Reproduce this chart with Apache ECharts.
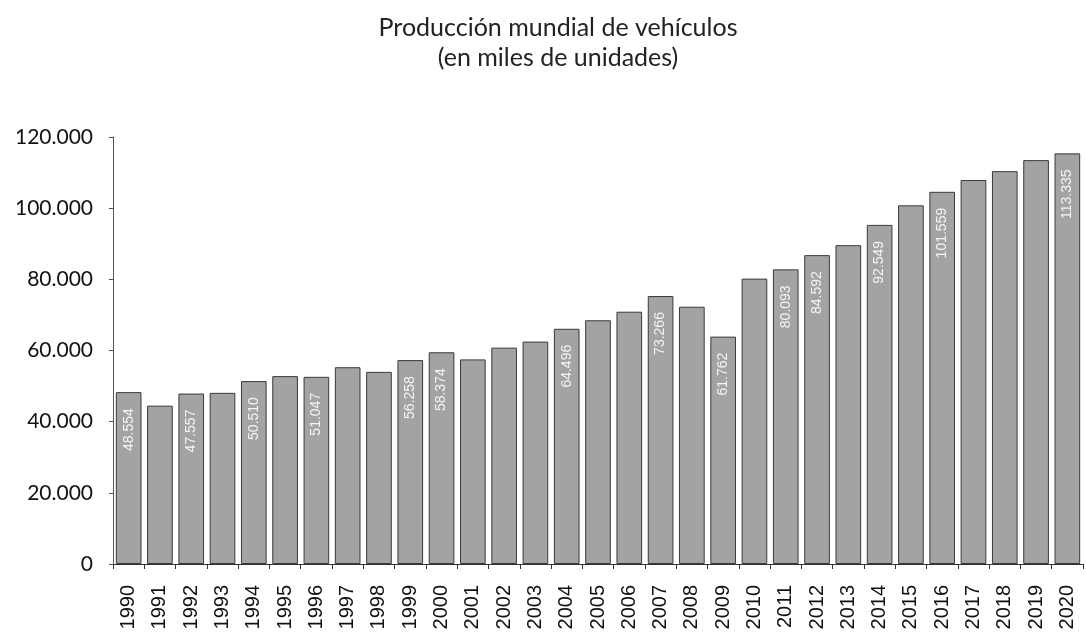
<!DOCTYPE html>
<html>
<head>
<meta charset="utf-8">
<script src="https://cdn.jsdelivr.net/npm/echarts@6/dist/echarts.min.js"></script>
<style>html,body{margin:0;padding:0;background:#fff}#c{width:1086px;height:637px}</style>
</head>
<body>
<div id="c"></div>
<script>
const titleText = 'Producción mundial de vehículos\n(en miles de unidades)';
const years = ['1990','1991','1992','1993','1994','1995','1996','1997','1998','1999','2000','2001','2002','2003','2004','2005','2006','2007','2008','2009','2010','2011','2012','2013','2014','2015','2016','2017','2018','2019','2020'];
const production = [48300,44500,47900,48100,51400,52800,52600,55300,54000,57300,59500,57500,60800,62500,66100,68500,70900,75300,72300,63900,80200,82800,86800,89600,95300,100800,104600,107900,110400,113500,115400];
const barLabels = ['48.554','','47.557','','50.510','','51.047','','','56.258','58.374','','','','64.496','','','73.266','','61.762','','80.093','84.592','','92.549','','101.559','','','','113.335'];

const fmt = v => String(v).replace(/\B(?=(\d{3})+(?!\d))/g, '.');

const chart = echarts.init(document.getElementById('c'));
chart.setOption({
  backgroundColor: '#ffffff',
  animation: false,
  title: {
    text: titleText,
    left: 553, top: 8, textAlign: 'center',
    textStyle: { fontFamily: 'Lato', fontSize: 25, fontWeight: 'normal', color: '#222', lineHeight: 30 }
  },
  grid: { left: 113, right: 3, top: 137, bottom: 73, containLabel: false },
  xAxis: {
    type: 'category',
    data: years,
    axisLine: { lineStyle: { color: '#333', width: 1 } },
    axisTick: { show: true, length: 5, lineStyle: { color: '#333' } },
    axisLabel: { rotate: 90, fontFamily: 'Liberation Sans', fontSize: 20, color: '#111', margin: 21, interval: 0 }
  },
  yAxis: {
    type: 'value',
    min: 0, max: 120000, interval: 20000,
    splitLine: { show: false },
    axisLine: { show: true, lineStyle: { color: '#555', width: 1 } },
    axisTick: { show: true, length: 4, lineStyle: { color: '#555' } },
    axisLabel: { formatter: fmt, fontFamily: 'Lato', fontSize: 21, color: '#111', margin: 20 }
  },
  series: [{
    type: 'bar',
    barCategoryGap: '18%',
    data: production.map((v, i) => ({ value: v, label: { show: barLabels[i] !== '' } })),
    itemStyle: { color: '#a3a3a3', borderColor: '#3a3a3a', borderWidth: 1 },
    label: {
      show: true,
      position: 'insideTop',
      rotate: 90,
      align: 'right',
      verticalAlign: 'middle',
      distance: 16,
      fontFamily: 'Liberation Sans',
      fontSize: 14,
      color: '#f4f4f4',
      formatter: p => barLabels[p.dataIndex]
    }
  }]
});
</script>
</body>
</html>
